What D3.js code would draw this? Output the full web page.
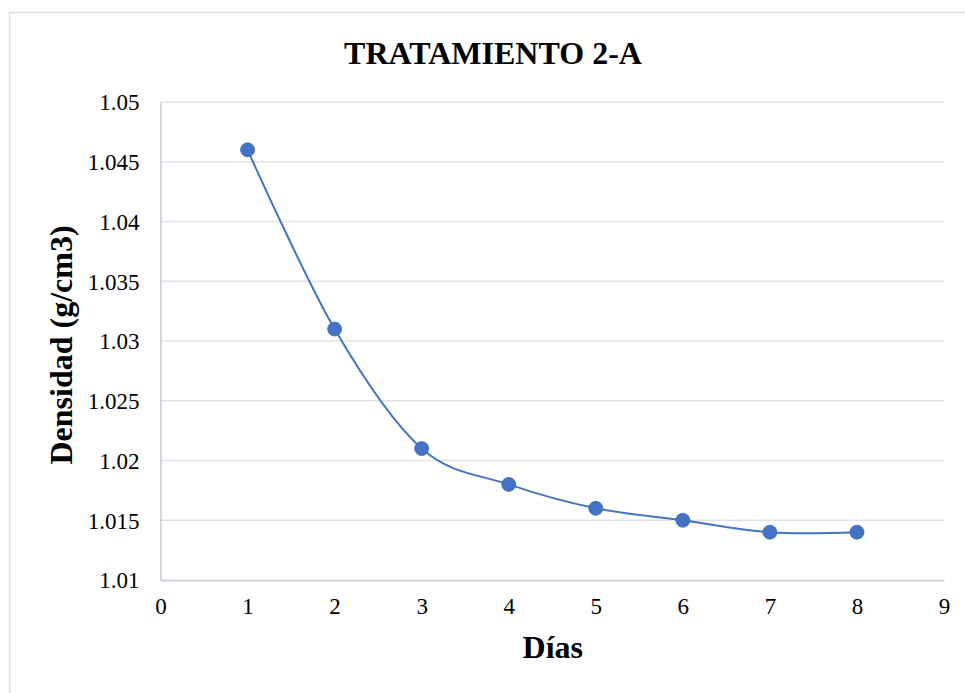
<!DOCTYPE html>
<html>
<head>
<meta charset="utf-8">
<script src="https://cdn.jsdelivr.net/npm/d3@7"></script>
<style>
  html, body { margin: 0; padding: 0; background: #fff; }
  svg { display: block; }
  text { font-family: "Liberation Serif", "Times New Roman", serif; fill: #000; }
</style>
</head>
<body>
<svg id="chart" width="965" height="693"></svg>
<script>
// Densidad medida por día
const dias = [1, 2, 3, 4, 5, 6, 7, 8];
const densidad = [1.046, 1.031, 1.021, 1.018, 1.016, 1.015, 1.014, 1.014];
const xTicks = [0, 1, 2, 3, 4, 5, 6, 7, 8, 9];
const yTicks = [1.01, 1.015, 1.02, 1.025, 1.03, 1.035, 1.04, 1.045, 1.05];

const titulo = "TRATAMIENTO 2-A";
const tituloX = "Días";
const tituloY = "Densidad (g/cm3)";

const svg = d3.select("#chart");
const W = 965, H = 693;
const plot = { left: 160.5, right: 944, top: 102, bottom: 580 };
const azul = "#4472C4";
const serif = '"Liberation Serif", "Times New Roman", serif';

// marco exterior del gráfico
svg.append("rect")
  .attr("x", 9.5).attr("y", 12.5)
  .attr("width", W + 10).attr("height", H + 10)
  .attr("fill", "#fff")
  .attr("stroke", "#d9dde3").attr("stroke-width", 1.5);

const x = d3.scaleLinear().domain([0, 9]).range([plot.left, plot.right]);
const y = d3.scaleLinear().domain([1.01, 1.05]).range([plot.bottom, plot.top]);

// líneas de cuadrícula horizontales
svg.append("g")
  .selectAll("line")
  .data(yTicks.filter(t => t !== 1.01))
  .join("line")
  .attr("x1", plot.left).attr("x2", plot.right)
  .attr("y1", d => y(d)).attr("y2", d => y(d))
  .attr("stroke", "#dfe2e7").attr("stroke-width", 1.5);

// eje Y
const yAxis = svg.append("g")
  .attr("transform", `translate(${plot.left},0)`)
  .call(d3.axisLeft(y).tickValues(yTicks).tickSize(0).tickPadding(21)
    .tickFormat(d => d3.format("")(+d.toFixed(3))));
yAxis.select(".domain").attr("stroke", "#c3cbd8").attr("stroke-width", 1.5);
yAxis.selectAll("text")
  .style("font-family", serif)
  .style("font-size", "23px").attr("fill", "#000").attr("dy", "0.34em");

// eje X
const xAxis = svg.append("g")
  .attr("transform", `translate(0,${plot.bottom})`)
  .call(d3.axisBottom(x).tickValues(xTicks).tickSize(0).tickPadding(18)
    .tickFormat(d3.format("d")));
xAxis.select(".domain").attr("stroke", "#c3cbd8").attr("stroke-width", 1.5);
xAxis.selectAll("text")
  .style("font-family", serif)
  .style("font-size", "23px").attr("fill", "#000");

// serie suavizada
const datos = dias.map((d, i) => ({ x: d, y: densidad[i] }));
const linea = d3.line()
  .x(d => x(d.x)).y(d => y(d.y))
  .curve(d3.curveCardinal.tension(0));
svg.append("path")
  .datum(datos)
  .attr("d", linea)
  .attr("fill", "none")
  .attr("stroke", azul).attr("stroke-width", 2);

svg.append("g")
  .selectAll("circle")
  .data(datos)
  .join("circle")
  .attr("cx", d => x(d.x)).attr("cy", d => y(d.y))
  .attr("r", 7)
  .attr("fill", azul)
  .attr("stroke", "#3f6bbb").attr("stroke-width", 0.8);

// títulos
svg.append("text")
  .attr("x", 493).attr("y", 64)
  .attr("text-anchor", "middle")
  .style("font-size", "32px").style("font-weight", "bold")
  .text(titulo);

svg.append("text")
  .attr("x", (plot.left + plot.right) / 2 + 0.5).attr("y", 658)
  .attr("text-anchor", "middle")
  .style("font-size", "32px").style("font-weight", "bold")
  .text(tituloX);

svg.append("text")
  .attr("transform", `translate(72,${(plot.top + plot.bottom) / 2 + 4}) rotate(-90)`)
  .attr("text-anchor", "middle")
  .style("font-size", "32px").style("font-weight", "bold")
  .text(tituloY);
</script>
</body>
</html>
